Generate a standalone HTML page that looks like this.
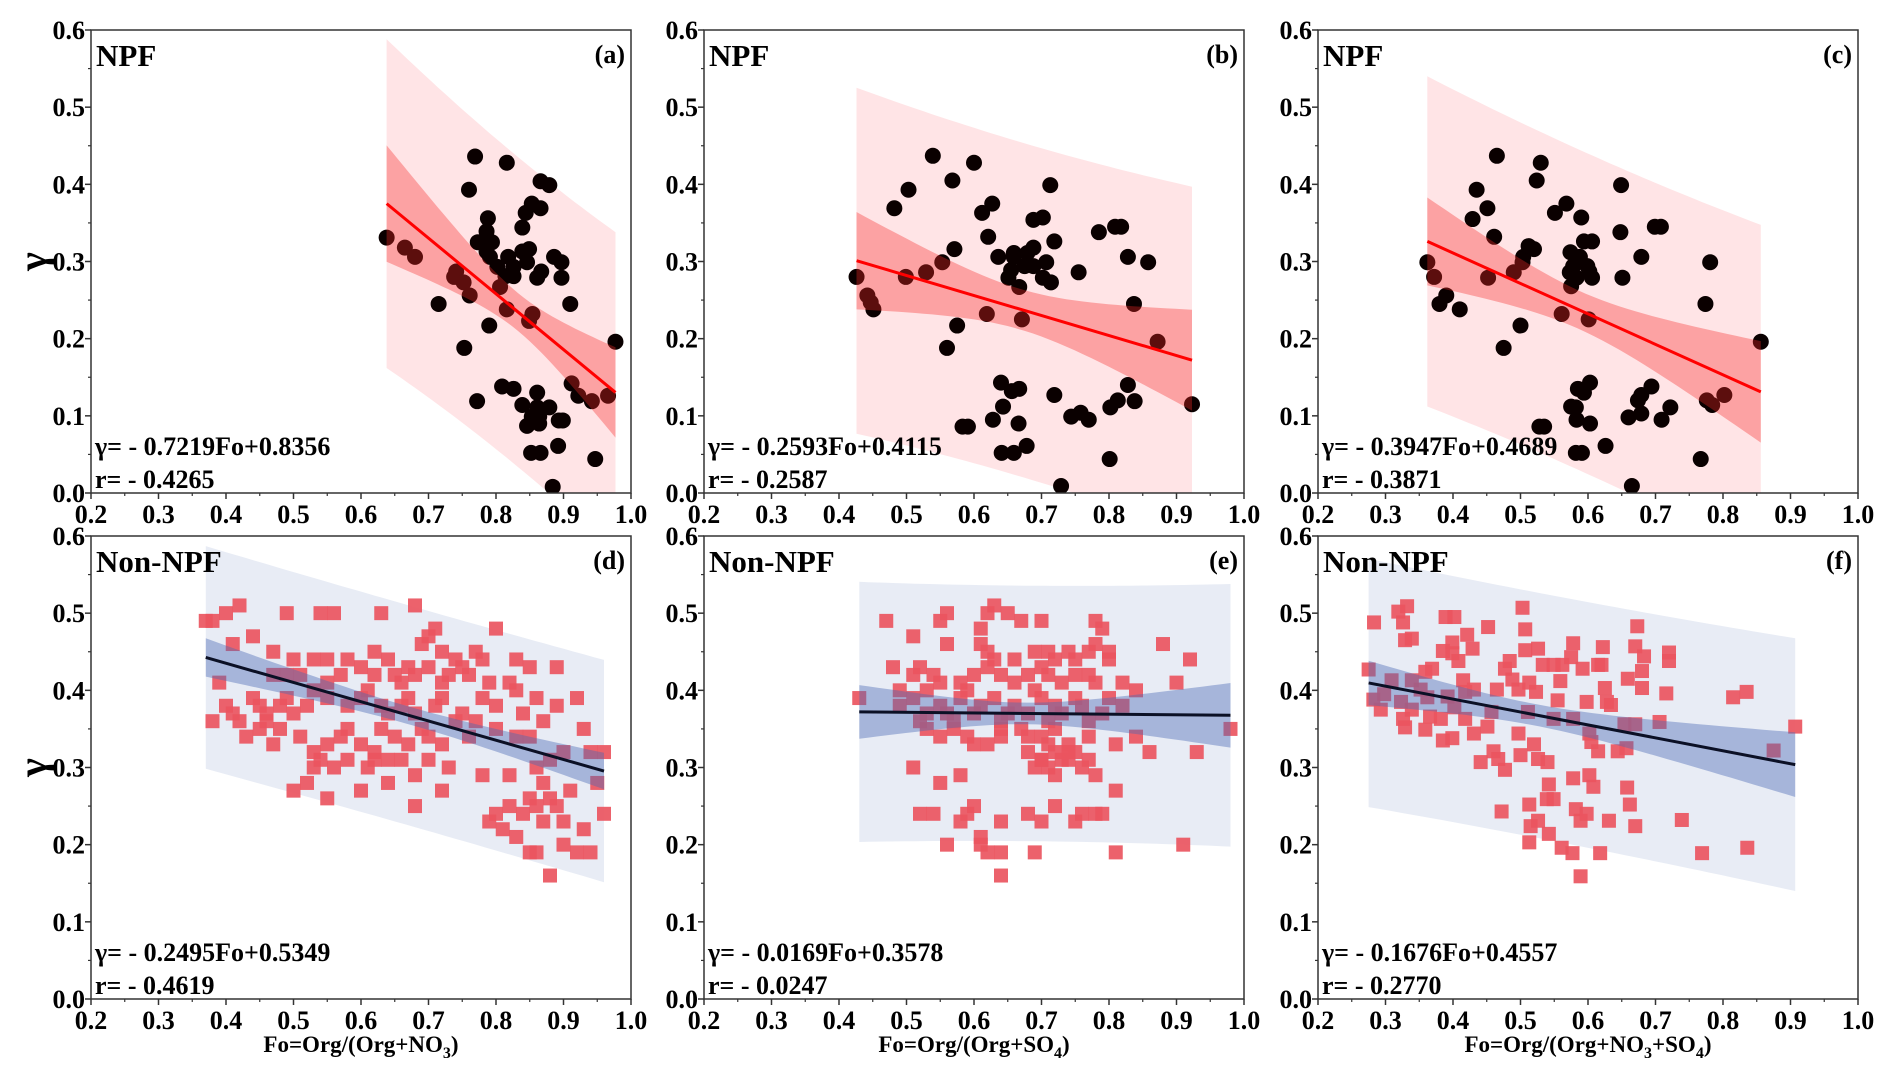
<!DOCTYPE html>
<html><head><meta charset="utf-8"><style>
html,body{margin:0;padding:0;background:#fff;}
svg{display:block;font-family:"Liberation Serif","Times New Roman",serif;font-weight:bold;}
</style></head><body>
<svg id="fig" width="1892" height="1071" viewBox="0 0 1892 1071" xmlns="http://www.w3.org/2000/svg"></svg>
<script>
// ---- Panel data (x = Fo, y = gamma) ----
const aX=[0.638,0.665,0.680,0.715,0.741,0.738,0.752,0.761,0.753,0.760,0.769,0.773,0.788,0.786,0.794,0.786,0.791,0.802,0.806,0.790,0.816,0.818,0.814,0.826,0.826,0.816,0.839,0.844,0.853,0.839,0.849,0.846,0.866,0.879,0.866,0.867,0.861,0.854,0.849,0.886,0.897,0.897,0.910,0.977,0.772,0.809,0.826,0.839,0.861,0.861,0.879,0.853,0.864,0.846,0.864,0.893,0.899,0.912,0.922,0.942,0.966,0.852,0.866,0.892,0.947,0.884];
const aY=[0.331,0.318,0.306,0.245,0.287,0.280,0.273,0.256,0.188,0.393,0.436,0.325,0.356,0.339,0.325,0.313,0.306,0.293,0.267,0.217,0.428,0.306,0.281,0.293,0.281,0.238,0.344,0.363,0.375,0.313,0.316,0.299,0.404,0.399,0.369,0.287,0.279,0.232,0.223,0.306,0.299,0.279,0.245,0.196,0.119,0.138,0.135,0.114,0.130,0.111,0.111,0.099,0.099,0.087,0.090,0.094,0.094,0.142,0.126,0.119,0.126,0.052,0.052,0.061,0.044,0.008];
const bX=[0.426,0.442,0.447,0.451,0.482,0.503,0.499,0.529,0.539,0.553,0.568,0.571,0.575,0.560,0.600,0.612,0.627,0.621,0.619,0.636,0.659,0.659,0.655,0.651,0.667,0.671,0.675,0.679,0.688,0.688,0.688,0.702,0.707,0.702,0.714,0.713,0.719,0.755,0.785,0.809,0.818,0.828,0.858,0.837,0.872,0.923,0.640,0.656,0.667,0.643,0.628,0.666,0.583,0.591,0.641,0.659,0.678,0.719,0.744,0.758,0.770,0.802,0.813,0.828,0.838,0.801,0.729];
const bY=[0.280,0.256,0.247,0.238,0.369,0.393,0.280,0.286,0.437,0.299,0.405,0.316,0.217,0.188,0.428,0.363,0.375,0.332,0.232,0.306,0.311,0.306,0.289,0.279,0.267,0.225,0.294,0.311,0.318,0.294,0.354,0.357,0.299,0.279,0.273,0.399,0.326,0.286,0.338,0.345,0.345,0.306,0.299,0.245,0.196,0.115,0.143,0.132,0.135,0.112,0.095,0.090,0.086,0.086,0.052,0.052,0.061,0.127,0.099,0.104,0.095,0.111,0.120,0.140,0.119,0.044,0.009];
const cX=[0.362,0.372,0.390,0.380,0.410,0.429,0.435,0.451,0.461,0.452,0.465,0.475,0.490,0.500,0.503,0.504,0.512,0.520,0.524,0.530,0.551,0.561,0.568,0.574,0.573,0.578,0.575,0.583,0.588,0.590,0.594,0.599,0.601,0.606,0.606,0.602,0.648,0.649,0.651,0.679,0.699,0.708,0.774,0.781,0.856,0.575,0.585,0.594,0.603,0.582,0.583,0.603,0.528,0.535,0.582,0.591,0.626,0.660,0.679,0.674,0.679,0.694,0.709,0.722,0.776,0.784,0.802,0.767,0.665];
const cY=[0.299,0.280,0.256,0.245,0.238,0.355,0.393,0.369,0.332,0.279,0.437,0.188,0.286,0.217,0.299,0.306,0.320,0.316,0.405,0.428,0.363,0.232,0.375,0.312,0.286,0.294,0.268,0.279,0.306,0.357,0.326,0.294,0.225,0.279,0.326,0.287,0.338,0.399,0.279,0.306,0.345,0.345,0.245,0.299,0.196,0.112,0.135,0.130,0.143,0.111,0.095,0.090,0.086,0.086,0.052,0.052,0.061,0.098,0.103,0.120,0.127,0.138,0.095,0.111,0.120,0.114,0.127,0.044,0.009];
const dX=[0.37,0.38,0.40,0.42,0.49,0.54,0.56,0.63,0.68,0.80,0.41,0.44,0.47,0.50,0.53,0.55,0.58,0.62,0.64,0.69,0.70,0.71,0.72,0.74,0.77,0.78,0.83,0.85,0.89,0.67,0.39,0.47,0.49,0.51,0.55,0.57,0.60,0.62,0.65,0.66,0.68,0.70,0.73,0.75,0.76,0.79,0.82,0.83,0.72,0.38,0.40,0.41,0.42,0.44,0.45,0.46,0.48,0.49,0.50,0.52,0.53,0.55,0.58,0.60,0.61,0.63,0.64,0.66,0.67,0.68,0.71,0.72,0.75,0.77,0.78,0.80,0.84,0.86,0.89,0.92,0.43,0.45,0.47,0.48,0.51,0.53,0.55,0.57,0.58,0.60,0.62,0.63,0.65,0.67,0.69,0.70,0.72,0.74,0.76,0.80,0.83,0.85,0.87,0.93,0.46,0.53,0.54,0.56,0.58,0.61,0.62,0.64,0.66,0.68,0.70,0.73,0.78,0.82,0.86,0.88,0.90,0.94,0.96,0.50,0.52,0.55,0.60,0.64,0.68,0.72,0.85,0.86,0.89,0.91,0.87,0.84,0.82,0.80,0.81,0.79,0.83,0.86,0.88,0.90,0.92,0.94,0.87,0.90,0.88,0.96,0.93,0.95,0.85];
const dY=[0.49,0.49,0.50,0.51,0.50,0.50,0.50,0.50,0.51,0.48,0.46,0.47,0.45,0.44,0.44,0.44,0.44,0.45,0.44,0.46,0.47,0.48,0.45,0.44,0.45,0.44,0.44,0.43,0.43,0.43,0.41,0.42,0.42,0.42,0.41,0.42,0.43,0.42,0.42,0.41,0.42,0.43,0.42,0.43,0.42,0.41,0.41,0.40,0.41,0.36,0.38,0.37,0.36,0.39,0.38,0.37,0.38,0.39,0.37,0.38,0.40,0.39,0.38,0.39,0.40,0.38,0.37,0.38,0.39,0.37,0.38,0.39,0.37,0.36,0.39,0.38,0.37,0.39,0.38,0.39,0.34,0.35,0.33,0.35,0.34,0.32,0.33,0.34,0.35,0.33,0.32,0.35,0.34,0.33,0.35,0.34,0.33,0.36,0.34,0.35,0.34,0.34,0.36,0.35,0.36,0.30,0.31,0.30,0.31,0.30,0.31,0.31,0.31,0.29,0.31,0.30,0.29,0.29,0.30,0.31,0.32,0.32,0.32,0.27,0.28,0.26,0.27,0.28,0.25,0.27,0.26,0.25,0.25,0.27,0.28,0.24,0.25,0.24,0.22,0.23,0.21,0.19,0.16,0.20,0.19,0.19,0.23,0.23,0.26,0.24,0.22,0.28,0.19];
const eX=[0.47,0.51,0.55,0.56,0.62,0.63,0.65,0.67,0.70,0.78,0.79,0.61,0.56,0.61,0.62,0.63,0.66,0.69,0.71,0.75,0.77,0.78,0.80,0.80,0.88,0.92,0.72,0.74,0.48,0.51,0.52,0.54,0.55,0.58,0.60,0.62,0.64,0.66,0.68,0.70,0.71,0.73,0.75,0.77,0.78,0.82,0.84,0.90,0.49,0.53,0.59,0.43,0.49,0.51,0.53,0.55,0.56,0.58,0.60,0.61,0.63,0.65,0.66,0.68,0.70,0.72,0.73,0.75,0.76,0.79,0.80,0.82,0.69,0.98,0.52,0.57,0.64,0.71,0.77,0.53,0.55,0.57,0.59,0.62,0.64,0.67,0.68,0.70,0.72,0.74,0.77,0.81,0.84,0.86,0.93,0.72,0.74,0.70,0.73,0.51,0.58,0.55,0.69,0.71,0.72,0.74,0.76,0.75,0.77,0.78,0.81,0.60,0.64,0.68,0.71,0.70,0.74,0.52,0.54,0.58,0.59,0.60,0.61,0.64,0.68,0.70,0.72,0.75,0.76,0.78,0.79,0.61,0.56,0.62,0.64,0.69,0.81,0.91,0.64];
const eY=[0.49,0.47,0.49,0.50,0.50,0.51,0.50,0.49,0.49,0.49,0.48,0.48,0.46,0.46,0.45,0.44,0.44,0.45,0.45,0.44,0.45,0.46,0.45,0.44,0.46,0.44,0.44,0.45,0.43,0.42,0.43,0.42,0.41,0.41,0.42,0.43,0.42,0.41,0.42,0.43,0.42,0.41,0.42,0.42,0.41,0.41,0.40,0.41,0.40,0.40,0.40,0.39,0.38,0.39,0.37,0.38,0.37,0.39,0.37,0.38,0.39,0.37,0.38,0.37,0.39,0.38,0.37,0.39,0.38,0.37,0.39,0.38,0.40,0.35,0.36,0.36,0.36,0.36,0.36,0.35,0.34,0.35,0.34,0.33,0.35,0.35,0.34,0.34,0.35,0.33,0.34,0.33,0.34,0.32,0.32,0.32,0.32,0.31,0.31,0.30,0.29,0.28,0.30,0.30,0.29,0.31,0.30,0.32,0.31,0.29,0.27,0.33,0.34,0.32,0.33,0.31,0.32,0.24,0.24,0.23,0.24,0.25,0.21,0.23,0.24,0.23,0.25,0.23,0.24,0.24,0.24,0.20,0.20,0.19,0.19,0.19,0.19,0.20,0.16];
const fX=[0.275,0.283,0.282,0.293,0.298,0.309,0.319,0.326,0.332,0.329,0.339,0.323,0.326,0.329,0.339,0.339,0.352,0.359,0.369,0.362,0.359,0.366,0.382,0.385,0.389,0.402,0.399,0.399,0.385,0.408,0.392,0.402,0.399,0.415,0.418,0.418,0.431,0.421,0.429,0.452,0.431,0.441,0.451,0.457,0.460,0.467,0.477,0.472,0.465,0.477,0.484,0.488,0.497,0.500,0.503,0.507,0.507,0.497,0.513,0.511,0.523,0.520,0.526,0.533,0.526,0.513,0.515,0.513,0.526,0.542,0.540,0.539,0.549,0.542,0.549,0.559,0.555,0.549,0.562,0.575,0.578,0.578,0.578,0.582,0.561,0.577,0.589,0.589,0.598,0.592,0.598,0.602,0.605,0.602,0.608,0.615,0.615,0.620,0.622,0.625,0.618,0.631,0.628,0.634,0.644,0.654,0.657,0.658,0.662,0.670,0.659,0.670,0.673,0.680,0.683,0.680,0.670,0.706,0.716,0.720,0.720,0.739,0.769,0.815,0.835,0.836,0.875,0.907];
const fY=[0.427,0.488,0.388,0.375,0.395,0.413,0.502,0.488,0.509,0.465,0.467,0.385,0.363,0.352,0.413,0.375,0.401,0.424,0.428,0.391,0.349,0.366,0.363,0.335,0.495,0.495,0.462,0.448,0.451,0.438,0.392,0.378,0.338,0.413,0.398,0.363,0.401,0.472,0.454,0.482,0.344,0.307,0.353,0.372,0.321,0.311,0.297,0.243,0.401,0.428,0.438,0.414,0.344,0.316,0.507,0.479,0.452,0.401,0.410,0.372,0.398,0.330,0.454,0.433,0.311,0.252,0.224,0.203,0.231,0.278,0.307,0.259,0.259,0.214,0.433,0.412,0.387,0.363,0.433,0.443,0.461,0.363,0.286,0.246,0.196,0.189,0.159,0.231,0.240,0.428,0.385,0.344,0.333,0.290,0.275,0.321,0.433,0.433,0.456,0.403,0.189,0.231,0.385,0.381,0.321,0.356,0.325,0.274,0.252,0.224,0.415,0.457,0.483,0.425,0.444,0.403,0.356,0.359,0.396,0.449,0.438,0.232,0.189,0.391,0.398,0.196,0.322,0.353];
// fitted line as drawn (slope, intercept)
const lineSlopes=[-0.7219,-0.2593,-0.3947,-0.2495,-0.0080,-0.1676];
const lineIntercepts=[0.8356,0.4115,0.4689,0.5349,0.3755,0.4557];
// printed equation / r text
const eqText=["γ= - 0.7219Fo+0.8356","γ= - 0.2593Fo+0.4115","γ= - 0.3947Fo+0.4689","γ= - 0.2495Fo+0.5349","γ= - 0.0169Fo+0.3578","γ= - 0.1676Fo+0.4557"];
const rVals=["r= - 0.4265","r= - 0.2587","r= - 0.3871","r= - 0.4619","r= - 0.0247","r= - 0.2770"];
const xTicks=[0.2,0.3,0.4,0.5,0.6,0.7,0.8,0.9,1.0];
const yTicks=[0.0,0.1,0.2,0.3,0.4,0.5,0.6];

const NS="http://www.w3.org/2000/svg";
const svg=document.getElementById('fig');
function mk(tag,attrs,parent,txt){const e=document.createElementNS(NS,tag);for(const k in attrs)e.setAttribute(k,attrs[k]);if(txt!==undefined)e.textContent=txt;(parent||svg).appendChild(e);return e;}

const lefts=[91,704,1318], tops=[30,536], W=540, H=463;
const panels=[
 {X:aX,Y:aY,id:'a',r:0,c:0,npf:true},
 {X:bX,Y:bY,id:'b',r:0,c:1,npf:true},
 {X:cX,Y:cY,id:'c',r:0,c:2,npf:true},
 {X:dX,Y:dY,id:'d',r:1,c:0,npf:false,xl:['Fo=Org/(Org+NO','3',')']},
 {X:eX,Y:eY,id:'e',r:1,c:1,npf:false,xl:['Fo=Org/(Org+SO','4',')']},
 {X:fX,Y:fY,id:'f',r:1,c:2,npf:false,xl:['Fo=Org/(Org+NO','3','+SO','4',')']}
];

panels.forEach((p,i)=>{
 const L=lefts[p.c],T=tops[p.r];
 const sx=v=>L+(v-0.2)/0.8*W, sy=v=>T+H-(v/0.6)*H;
 const g=mk('g',{});
 
 
 const clipId='clip'+p.id;
 const cp=mk('clipPath',{id:clipId},g);mk('rect',{x:L,y:T,width:W,height:H},cp);
 const n=p.X.length,m=lineSlopes[i],b=lineIntercepts[i];
 const mx=p.X.reduce((s,v)=>s+v,0)/n;
 let sxx=0,sse=0;for(let k=0;k<n;k++){sxx+=(p.X[k]-mx)**2;sse+=(p.Y[k]-(m*p.X[k]+b))**2;}
 const s=Math.sqrt(sse/(n-2)),t=1.98;
 const xmin=Math.min(...p.X),xmax=Math.max(...p.X);
 function band(pred){const up=[],lo=[];for(let k=0;k<=40;k++){const x=xmin+(xmax-xmin)*k/40;const yh=m*x+b;const h=t*s*Math.sqrt((pred?1:0)+1/n+(x-mx)**2/sxx);up.push(sx(x).toFixed(1)+','+sy(yh+h).toFixed(1));lo.unshift(sx(x).toFixed(1)+','+sy(yh-h).toFixed(1));}return up.concat(lo).join(' ');}
 const cg=mk('g',{'clip-path':'url(#'+clipId+')'},g);
 const outer=mk('polygon',{points:band(true),fill:p.npf?'#ffe4e6':'#e8ecf5'},cg);
 
 
 for(let k=0;k<n;k++){
  let mark;
  if(p.npf){mark=mk('circle',{cx:sx(p.X[k]),cy:sy(p.Y[k]),r:8,fill:'#0a0000'},cg);}
  else{mark=mk('rect',{x:sx(p.X[k])-7,y:sy(p.Y[k])-7,width:14,height:14,fill:'#ea5560','fill-opacity':0.92},cg);}
  
  
 }
 const inner=mk('polygon',{points:band(false),fill:p.npf?'rgba(246,40,36,0.35)':'rgba(75,106,182,0.42)'},cg);
 
 
 const fl=mk('line',{x1:sx(xmin),y1:sy(m*xmin+b),x2:sx(xmax),y2:sy(m*xmax+b),stroke:p.npf?'#ff0000':'#0b1025','stroke-width':3},cg);
 
 
 const fr=mk('rect',{x:L,y:T,width:W,height:H,fill:'none',stroke:'#333','stroke-width':1.5},g);
 
 
 xTicks.forEach((v,j)=>{
  mk('line',{x1:sx(v),y1:T+H,x2:sx(v),y2:T+H+6,stroke:'#333','stroke-width':1.5},g);
  if(j<xTicks.length-1)mk('line',{x1:sx(v+0.05),y1:T+H,x2:sx(v+0.05),y2:T+H+3,stroke:'#333','stroke-width':1.2},g);
  const tl=mk('text',{x:sx(v),y:T+H+30,'font-size':26,'text-anchor':'middle'},g,v.toFixed(1));
  
  
 });
 yTicks.forEach((v,j)=>{
  mk('line',{x1:L-6,y1:sy(v),x2:L,y2:sy(v),stroke:'#333','stroke-width':1.5},g);
  if(j<yTicks.length-1)mk('line',{x1:L-3,y1:sy(v+0.05),x2:L,y2:sy(v+0.05),stroke:'#333','stroke-width':1.2},g);
  const tl=mk('text',{x:L-6,y:sy(v)+9,'font-size':26,'text-anchor':'end'},g,v.toFixed(1));
  
  
 });
 const ttl=mk('text',{x:L+5,y:T+36,'font-size':31},g,p.npf?'NPF':'Non-NPF');
 
 
 const pl=mk('text',{x:L+W-6,y:T+33,'font-size':26,'text-anchor':'end'},g,'('+p.id+')');
 
 
 const eq=mk('text',{x:L+4,y:T+H-38,'font-size':26},g,eqText[i]);
 
 
 const rt=mk('text',{x:L+4,y:T+H-5,'font-size':26},g,rVals[i]);
 
 
 if(p.xl){
  const xt=mk('text',{x:L+W/2,y:T+H+53,'font-size':23,'text-anchor':'middle'},g);
  
  
  p.xl.forEach((s2,q)=>{const sub=(s2==='3'||s2==='4');mk('tspan',sub?{'font-size':16,dy:6}:(q>0?{dy:-6}:{}),xt,s2);});
 }
 if(p.c===0){
  const yt=mk('text',{x:0,y:0,'font-size':40,'text-anchor':'middle',transform:'translate(46,'+(T+H/2)+') rotate(-90)'},g,'γ');
  
  
 }
});
</script>
</body></html>
